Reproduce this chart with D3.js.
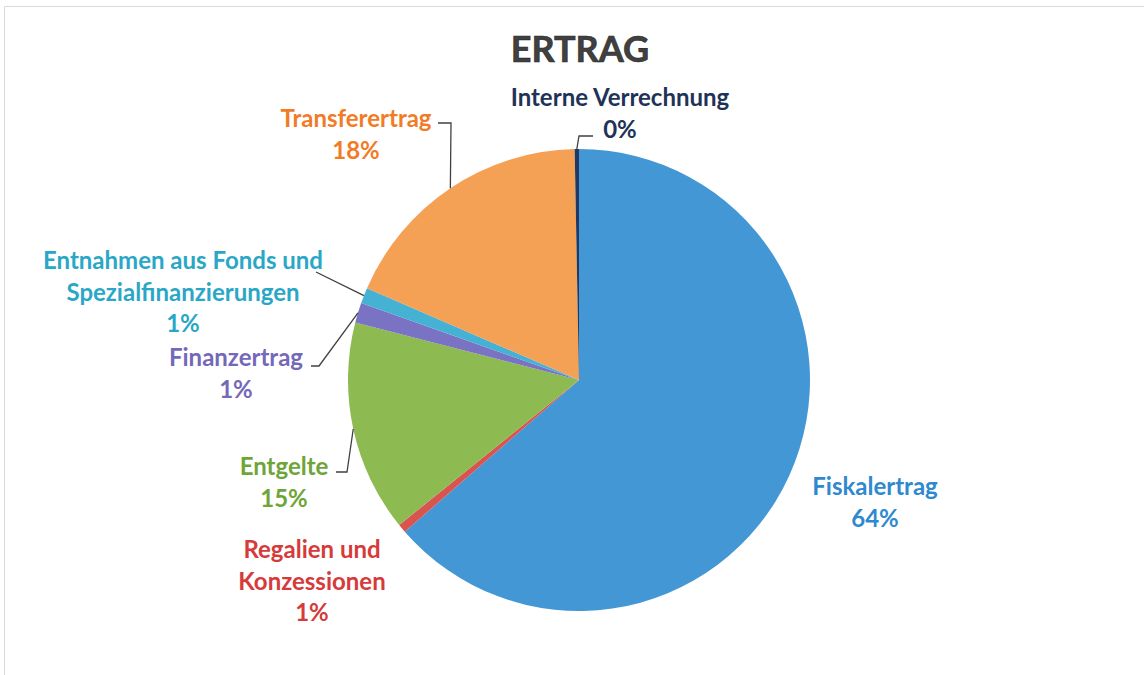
<!DOCTYPE html>
<html>
  <head>
    <meta charset="utf-8">
    <script type="text/javascript" src="https://cdn.jsdelivr.net/npm/d3@7"></script>
    <style>
      body { margin: 0; background: #fff; }
      text { font-family: Lato, "Open Sans", sans-serif; font-weight: bold; }
    </style>
  </head>
  <body>
    <script type="text/javascript">
      // Ertrag by category, clockwise from 12 o'clock
      var categories = ["Fiskalertrag", "Regalien und Konzessionen", "Entgelte", "Finanzertrag",
                        "Entnahmen aus Fonds und Spezialfinanzierungen", "Transferertrag", "Interne Verrechnung"];
      var values = [63.6, 0.6, 14.8, 1.4, 1.1, 18.2, 0.3];
      var pctLabels = ["64%", "1%", "15%", "1%", "1%", "18%", "0%"];
      var sliceColors = ["#4497d5", "#d9534f", "#8dbb52", "#7a72c2", "#45b1d3", "#f4a055", "#1f3864"];
      var textColors = ["#2e89cf", "#d63a3a", "#6ea538", "#7468b8", "#2aa7c7", "#f27b26", "#1f3358"];

      var w = 1144, h = 675;
      var cx = 579, cy = 380, r = 231;

      // label layout: text lines, centre x, first baseline, leader line points (pie edge added later)
      var layout = [
        { lines: ["Fiskalertrag"], x: 875, y: 495, leader: null },
        { lines: ["Regalien und", "Konzessionen"], x: 312, y: 558, leader: null },
        { lines: ["Entgelte"], x: 284, y: 475, leader: [[336, 472], [347, 472]] },
        { lines: ["Finanzertrag"], x: 236, y: 366, leader: [[311, 366], [319, 366]] },
        { lines: ["Entnahmen aus Fonds und", "Spezialfinanzierungen"], x: 183, y: 269, leader: [[316, 272]] },
        { lines: ["Transferertrag"], x: 356, y: 127, leader: [[438, 123], [451, 123]] },
        { lines: ["Interne Verrechnung"], x: 620, y: 106, leader: [[593, 136], [579, 136]] }
      ];
      var lineH = 31.5;

      var svg = d3.select("body").append("svg")
        .attr("width", w)
        .attr("height", h);

      // faint frame of the scanned chart
      svg.append("path")
        .attr("d", "M4.5," + h + " V6.5 H" + w)
        .attr("fill", "none")
        .attr("stroke", "#d9d9d9")
        .attr("stroke-width", 1);

      svg.append("text")
        .attr("x", 580)
        .attr("y", 62)
        .attr("text-anchor", "middle")
        .attr("font-size", "36px")
        .attr("fill", "#404040")
        .attr("stroke", "#2a2a2a")
        .attr("stroke-width", 0.6)
        .text("ERTRAG");

      var pie = d3.pie().sort(null).value(d => d);
      var arcs = pie(values);
      var arc = d3.arc().innerRadius(0).outerRadius(r);

      var g = svg.append("g").attr("transform", "translate(" + cx + "," + cy + ")");
      g.selectAll("path.slice")
        .data(arcs)
        .enter()
        .append("path")
        .attr("class", "slice")
        .attr("d", arc)
        .attr("fill", (d, i) => sliceColors[i]);

      // leader lines from label to slice edge
      var edge = d3.arc().innerRadius(r).outerRadius(r);
      arcs.forEach((d, i) => {
        var L = layout[i];
        if (!L.leader) return;
        var c = edge.centroid(d);
        var pts = L.leader.concat([[cx + c[0], cy + c[1]]]);
        svg.append("path")
          .attr("d", d3.line()(pts))
          .attr("fill", "none")
          .attr("stroke", "#404040")
          .attr("stroke-width", 1.3);
      });

      // labels
      layout.forEach((L, i) => {
        var t = svg.append("text")
          .attr("text-anchor", "middle")
          .attr("font-size", "24px")
          .attr("fill", textColors[i]);
        L.lines.concat([pctLabels[i]]).forEach((s, k) => {
          t.append("tspan")
            .attr("x", L.x)
            .attr("y", L.y + k * lineH)
            .text(s);
        });
      });
    </script>
  </body>
</html>
